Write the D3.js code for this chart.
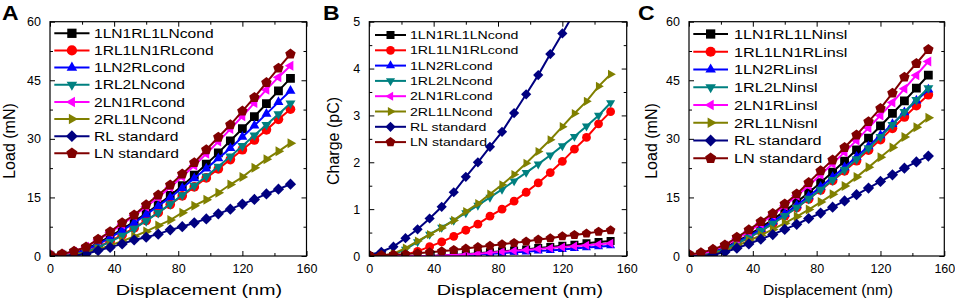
<!DOCTYPE html>
<html><head><meta charset="utf-8">
<script src="https://cdn.jsdelivr.net/npm/d3@7"></script>
<style>
body{margin:0;background:#fff}
svg{display:block}
text{font-family:"Liberation Sans",Arial,Helvetica,sans-serif;fill:#000}
</style>
</head><body>
<svg id="chart" width="955" height="304"></svg>
<script>
// ---------- data ----------
const displacement = [0,7.5,15,22.5,30,37.5,45,52.5,60,67.5,75,82.5,90,97.5,105,112.5,120,127.5,135,142.5,150];
const xTickValues = [0,40,80,120,160];
const xMinorTicks = [20,60,100,140];
const loadTicks = [0,15,30,45,60];
const loadMinorTicks = [7.5,22.5,37.5,52.5];
const chargeTicks = [0,1,2,3,4,5];
const chargeMinorTicks = [0.5,1.5,2.5,3.5,4.5];
const panelLetters = ["A","B","C"];
const xTitle = "Displacement (nm)";
const yTitles = ["Load (mN)","Charge (pC)","Load (mN)"];

const namesCond = ["1LN1RL1LNcond","1RL1LN1RLcond","1LN2RLcond","1RL2LNcond","2LN1RLcond","2RL1LNcond","RL standard","LN standard"];
const namesInsl = ["1LN1RL1LNinsl","1RL1LN1RLinsl","1LN2RLinsl","1RL2LNinsl","2LN1RLinsl","2RL1LNisnl","RL standard","LN standard"];

// Panel A: load, conductive
const loadCond_1LN1RL1LN = [0,0.2,0.7,1.8,3.3,5,6.8,8.8,10.9,13.1,15.5,18,20.7,23.5,26.4,29.5,32.6,35.7,39,42.3,45.5];
const loadCond_1RL1LN1RL = [0,0,0.3,1.1,2.3,3.8,5.4,7.2,9.1,11.1,13.2,15.4,17.7,20,22.3,24.7,27.2,29.7,32.3,35,37.6];
const loadCond_1LN2RL    = [0,0.1,0.6,1.6,3,4.7,6.5,8.5,10.6,12.8,15,17.4,19.9,22.4,25,27.6,30.5,33.4,36.4,39.4,42.3];
const loadCond_1RL2LN    = [0,0,0.3,1,2.2,3.6,5.2,7,9,11.1,13.3,15.6,18,20.4,22.9,25.5,28.2,30.9,33.6,36.3,39.1];
const loadCond_2LN1RL    = [0.2,0.4,1.1,2.4,4.1,6,8.1,10.3,12.6,15,17.6,20.3,23.2,26.2,29.3,32.5,35.8,39.2,42.6,45.8,48.7];
const loadCond_2RL1LN    = [0,0,0.3,0.9,1.7,2.7,3.8,5,6.3,7.8,9.2,11.1,12.9,14.4,16.2,18.3,20.2,22.6,24.8,26.8,28.9];
const loadCond_RLstd     = [0,0,0.1,0.5,1.4,2.2,3.1,4.1,4.8,5.6,6.7,7.5,8.5,9.5,10.8,12,13.3,14.5,15.9,17.1,18.4];
const loadCond_LNstd     = [0.3,0.5,1.2,2.3,4.3,6.2,8.5,10.5,13.1,15.6,18.2,21,23.9,27.2,30.4,33.6,37.1,40.6,44.4,48.1,51.7];

// Panel B: charge, conductive
const charge_1LN1RL1LN = [0,0,0,0,0,0,0.01,0.02,0.04,0.06,0.08,0.1,0.12,0.14,0.17,0.19,0.22,0.24,0.27,0.3,0.32];
const charge_1RL1LN1RL = [0,0,0,0.03,0.1,0.2,0.3,0.42,0.55,0.68,0.85,1.0,1.17,1.36,1.56,1.78,2.02,2.28,2.53,2.82,3.08];
const charge_1LN2RL    = [0,0,0,0,0,0,0,0.01,0.02,0.03,0.05,0.06,0.08,0.09,0.11,0.12,0.14,0.16,0.18,0.2,0.22];
const charge_1RL2LN    = [0,0,0.03,0.14,0.3,0.46,0.61,0.76,0.92,1.08,1.25,1.42,1.6,1.78,1.96,2.15,2.35,2.55,2.77,3.0,3.27];
const charge_2LN1RL    = [0,0,0,0,0,0,0.01,0.02,0.03,0.05,0.07,0.09,0.11,0.13,0.15,0.17,0.19,0.21,0.23,0.25,0.27];
const charge_2RL1LN    = [0,0,0.05,0.17,0.32,0.46,0.6,0.76,0.95,1.12,1.32,1.52,1.74,1.98,2.23,2.48,2.76,3.04,3.3,3.62,3.88];
const charge_RLstd     = [0.02,0.09,0.2,0.38,0.57,0.8,1.05,1.36,1.69,2.0,2.33,2.65,3.05,3.45,3.86,4.31,4.75,5.2];
const charge_LNstd     = [0.02,0.02,0.03,0.04,0.06,0.08,0.1,0.13,0.16,0.19,0.22,0.25,0.28,0.31,0.35,0.38,0.42,0.45,0.48,0.52,0.55];

// Panel C: load, insulating
const loadInsl_1LN1RL1LN = [0,0.3,1,2.2,3.7,5.4,7.3,9.3,11.5,13.8,16.2,18.8,21.5,24.3,27.2,30.2,33.3,36.5,39.7,43,46.3];
const loadInsl_1RL1LN1RL = [0,0.1,0.7,1.7,3.1,4.7,6.4,8.3,10.3,12.4,14.6,16.9,19.3,21.8,24.4,27.1,29.8,32.7,35.6,38.5,41.3];
const loadInsl_1LN2RL    = [0,0.2,0.9,2,3.5,5.1,6.9,8.8,10.8,13,15.3,17.7,20.2,22.7,25.4,28.1,30.9,33.8,36.8,39.8,42.6];
const loadInsl_1RL2LN    = [0,0.2,0.8,1.8,3.2,4.7,6.4,8.3,10.3,12.4,14.7,17,19.5,22.1,24.8,27.6,30.5,33.6,36.9,40,43];
const loadInsl_2LN1RL    = [0.2,0.5,1.4,2.7,4.4,6.3,8.3,10.5,12.9,15.4,18,20.8,23.6,26.6,29.6,32.8,36,39.3,42.8,46.3,49.8];
const loadInsl_2RL1LN    = [0,0.1,0.5,1.4,2.6,3.9,5.3,6.8,8.4,10.1,11.9,13.8,15.8,17.9,20.2,22.7,25.3,27.8,30.5,33,35.4];
const loadInsl_RLstd     = [0,0,0.3,1,2,3.1,4.3,5.5,6.8,8.1,9.6,11,12.5,14.1,15.7,17.4,19.1,20.8,22.5,24.1,25.6];
const loadInsl_LNstd     = [0.4,0.85,1.7,2.8,4.8,6.7,8.8,10.9,13.3,15.9,18.8,21.8,24.6,27.8,31,34.4,37.8,41.7,45.8,49.3,52.9];

const seriesColors = ["#000000","#ff0000","#0000ff","#008080","#ff00ff","#808000","#000080","#800000"];
const seriesMarkers = ["square","circle","triUp","triDown","triLeft","triRight","diamond","pentagon"];

// ---------- layout ----------
const plotTop = 21.7, plotBottom = 256;
const panels = [
  {letter:panelLetters[0], lx:2, x0:50, x1:306.5, yDomain:[0,60], yTicks:loadTicks, yMinor:loadMinorTicks, yTitle:yTitles[0], yTitleX:15, mr:5.5,
   names:namesCond, data:[loadCond_1LN1RL1LN,loadCond_1RL1LN1RL,loadCond_1LN2RL,loadCond_1RL2LN,loadCond_2LN1RL,loadCond_2RL1LN,loadCond_RLstd,loadCond_LNstd],
   leg:{lineX0:54.3,lineX1:89.5,textX:94,y0:33.3,dy:17.15,font:13,sx:1.2,mr:5.8},xTitleCx:199,xTitleSx:1.28},
  {letter:panelLetters[1], lx:323, x0:369.3, x1:626.7, yDomain:[0,5], yTicks:chargeTicks, yMinor:chargeMinorTicks, yTitle:yTitles[1], yTitleX:339, mr:5,
   names:namesCond, data:[charge_1LN1RL1LN,charge_1RL1LN1RL,charge_1LN2RL,charge_1RL2LN,charge_2LN1RL,charge_2RL1LN,charge_RLstd,charge_LNstd],
   leg:{lineX0:375,lineX1:406,textX:410,y0:35,dy:15.3,font:11.6,sx:1.22,mr:5},xTitleCx:520,xTitleSx:1.28},
  {letter:panelLetters[2], lx:638, x0:689, x1:944.3, yDomain:[0,60], yTicks:loadTicks, yMinor:loadMinorTicks, yTitle:yTitles[2], yTitleX:657, mr:5.5,
   names:namesInsl, data:[loadInsl_1LN1RL1LN,loadInsl_1RL1LN1RL,loadInsl_1LN2RL,loadInsl_1RL2LN,loadInsl_2LN1RL,loadInsl_2RL1LN,loadInsl_RLstd,loadInsl_LNstd],
   leg:{lineX0:693.3,lineX1:728,textX:734,y0:34,dy:17.75,font:13.5,sx:1.2,mr:5.8},xTitleCx:828,xTitleSx:1.0}
];

function markerPath(type, r){
  const poly = (angles, rad) => "M" + angles.map(a => {
    const t = a*Math.PI/180; return [rad*Math.cos(t), rad*Math.sin(t)].map(v=>v.toFixed(2)).join(",");
  }).join("L") + "Z";
  switch(type){
    case "square": { const a=r*0.8; return `M${-a},${-a}H${a}V${a}H${-a}Z`; }
    case "circle": { const c=r*0.88; return `M${c},0A${c},${c} 0 1,1 ${-c},0A${c},${c} 0 1,1 ${c},0Z`; }
    case "triUp": return poly([-90,30,150], r*1.05);
    case "triDown": return poly([90,210,330], r*1.05);
    case "triLeft": return poly([180,300,60], r*1.05);
    case "triRight": return poly([0,120,240], r*1.05);
    case "diamond": return poly([-90,0,90,180], r*1.02);
    case "pentagon": return poly([-90,-18,54,126,198], r);
  }
}

const svg = d3.select("#chart");

panels.forEach((p, pi) => {
  const x = d3.scaleLinear().domain([0,160]).range([p.x0, p.x1]);
  const y = d3.scaleLinear().domain(p.yDomain).range([plotBottom, plotTop]);
  const g = svg.append("g");

  const clipId = "clip" + pi;
  svg.append("clipPath").attr("id", clipId).append("rect")
    .attr("x", p.x0).attr("y", plotTop).attr("width", p.x1-p.x0).attr("height", plotBottom-plotTop);

  const plot = g.append("g").attr("clip-path", `url(#${clipId})`);
  p.data.forEach((vals, si) => {
    const pts = vals.map((v,i)=>[displacement[i], v]);
    plot.append("path")
      .attr("d", d3.line().x(d=>x(d[0])).y(d=>y(d[1]))(pts))
      .attr("fill","none").attr("stroke", seriesColors[si]).attr("stroke-width",2);
    plot.selectAll(null).data(pts).enter().append("path")
      .attr("transform", d=>`translate(${x(d[0])},${y(d[1])})`)
      .attr("d", markerPath(seriesMarkers[si], p.mr))
      .attr("fill", seriesColors[si]);
  });

  const styleAxis = (sel) => {
    sel.select(".domain").remove();
    sel.selectAll("line").attr("stroke","#000").attr("stroke-width",1);
    sel.selectAll("text").attr("font-family",'"Liberation Sans",Arial,sans-serif').attr("font-size",12.5).attr("fill","#000");
  };
  g.append("g").attr("transform",`translate(0,${plotBottom})`)
    .call(d3.axisBottom(x).tickValues(xTickValues).tickSize(-5).tickPadding(8).tickFormat(d3.format("d"))).call(styleAxis);
  g.append("g").attr("transform",`translate(0,${plotBottom})`)
    .call(d3.axisBottom(x).tickValues(xMinorTicks).tickSize(-3).tickFormat("")).call(styleAxis);
  g.append("g").attr("transform",`translate(0,${plotTop})`)
    .call(d3.axisTop(x).tickValues(xTickValues).tickSize(-5).tickFormat("")).call(styleAxis);
  g.append("g").attr("transform",`translate(0,${plotTop})`)
    .call(d3.axisTop(x).tickValues(xMinorTicks).tickSize(-3).tickFormat("")).call(styleAxis);
  g.append("g").attr("transform",`translate(${p.x0},0)`)
    .call(d3.axisLeft(y).tickValues(p.yTicks).tickSize(-5).tickPadding(9).tickFormat(d3.format("d"))).call(styleAxis);
  g.append("g").attr("transform",`translate(${p.x0},0)`)
    .call(d3.axisLeft(y).tickValues(p.yMinor).tickSize(-3).tickFormat("")).call(styleAxis);
  g.append("g").attr("transform",`translate(${p.x1},0)`)
    .call(d3.axisRight(y).tickValues(p.yTicks).tickSize(-5).tickFormat("")).call(styleAxis);
  g.append("g").attr("transform",`translate(${p.x1},0)`)
    .call(d3.axisRight(y).tickValues(p.yMinor).tickSize(-3).tickFormat("")).call(styleAxis);

  g.append("rect").attr("x",p.x0).attr("y",plotTop).attr("width",p.x1-p.x0).attr("height",plotBottom-plotTop)
    .attr("fill","none").attr("stroke","#000").attr("stroke-width",1.2);

  g.append("text").attr("transform",`translate(${p.xTitleCx},295) scale(${p.xTitleSx},1)`)
    .attr("text-anchor","middle").attr("font-size",15.5).text(xTitle);
  g.append("text").attr("transform",`translate(${p.yTitleX},141) rotate(-90)`)
    .attr("text-anchor","middle").attr("font-size",16).text(p.yTitle);

  g.append("text").attr("transform",`translate(${p.lx},19.5) scale(1.15,1)`)
    .attr("font-size",20).attr("font-weight","bold").text(p.letter);

  const L = p.leg;
  p.names.forEach((name, si) => {
    const cy = L.y0 + si*L.dy;
    const lg = g.append("g");
    lg.append("line").attr("x1",L.lineX0).attr("x2",L.lineX1).attr("y1",cy).attr("y2",cy)
      .attr("stroke",seriesColors[si]).attr("stroke-width",2);
    lg.append("path").attr("transform",`translate(${(L.lineX0+L.lineX1)/2},${cy})`)
      .attr("d", markerPath(seriesMarkers[si], L.mr)).attr("fill",seriesColors[si]);
    lg.append("text").attr("transform",`translate(${L.textX},${cy}) scale(${L.sx},1)`)
      .attr("dy","0.36em").attr("font-size",L.font).text(name);
  });
});
</script>
</body></html>
